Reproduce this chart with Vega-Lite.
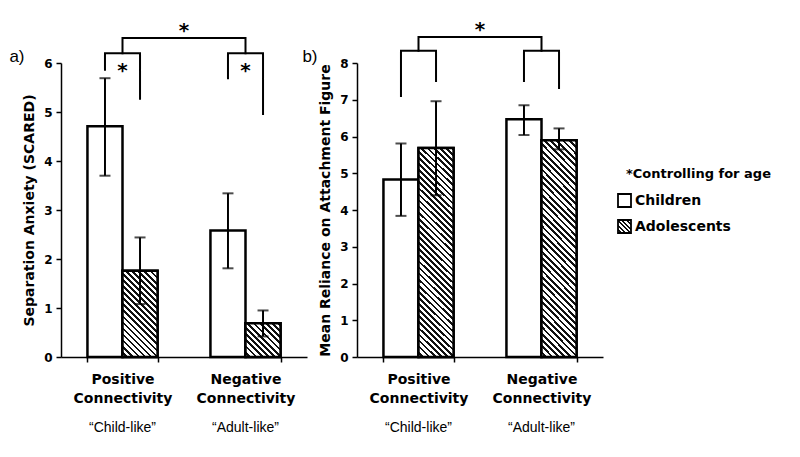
{
  "$schema": "https://vega.github.io/schema/vega-lite/v6.json",
  "background": "#ffffff",
  "padding": {"left": 8, "top": 19, "right": 0, "bottom": 0},
  "bounds": "flush",
  "spacing": 50,
  "config": {"view": {"stroke": null}, "font": "DejaVu Sans"},
  "datasets": {
    "anxiety": [
      {"cat": "Positive Connectivity|“Child-like”", "group": "Children", "mean": 4.71, "lo": 3.70, "hi": 5.69},
      {"cat": "Positive Connectivity|“Child-like”", "group": "Adolescents", "mean": 1.76, "lo": 1.08, "hi": 2.44},
      {"cat": "Negative Connectivity|“Adult-like”", "group": "Children", "mean": 2.58, "lo": 1.81, "hi": 3.34},
      {"cat": "Negative Connectivity|“Adult-like”", "group": "Adolescents", "mean": 0.69, "lo": 0.42, "hi": 0.95}
    ],
    "reliance": [
      {"cat": "Positive Connectivity|“Child-like”", "group": "Children", "mean": 4.83, "lo": 3.84, "hi": 5.81},
      {"cat": "Positive Connectivity|“Child-like”", "group": "Adolescents", "mean": 5.69, "lo": 4.40, "hi": 6.96},
      {"cat": "Negative Connectivity|“Adult-like”", "group": "Children", "mean": 6.47, "lo": 6.04, "hi": 6.85},
      {"cat": "Negative Connectivity|“Adult-like”", "group": "Adolescents", "mean": 5.90, "lo": 5.65, "hi": 6.22}
    ],
    "anxietyBrackets": [
      {"bracket": "Positive", "cat": "Positive Connectivity|“Child-like”", "group": "Children", "y": 5.86, "ord": 1},
      {"bracket": "Positive", "cat": "Positive Connectivity|“Child-like”", "group": "Children", "y": 6.2, "ord": 2},
      {"bracket": "Positive", "cat": "Positive Connectivity|“Child-like”", "group": "Adolescents", "y": 6.2, "ord": 3},
      {"bracket": "Positive", "cat": "Positive Connectivity|“Child-like”", "group": "Adolescents", "y": 5.27, "ord": 4},
      {"bracket": "Negative", "cat": "Negative Connectivity|“Adult-like”", "group": "Children", "y": 5.69, "ord": 1},
      {"bracket": "Negative", "cat": "Negative Connectivity|“Adult-like”", "group": "Children", "y": 6.2, "ord": 2},
      {"bracket": "Negative", "cat": "Negative Connectivity|“Adult-like”", "group": "Adolescents", "y": 6.2, "ord": 3},
      {"bracket": "Negative", "cat": "Negative Connectivity|“Adult-like”", "group": "Adolescents", "y": 4.96, "ord": 4}
    ],
    "anxietyTop": [
      {"cat": "Positive Connectivity|“Child-like”", "y": 6.2, "ord": 1},
      {"cat": "Positive Connectivity|“Child-like”", "y": 6.51, "ord": 2},
      {"cat": "Negative Connectivity|“Adult-like”", "y": 6.51, "ord": 3},
      {"cat": "Negative Connectivity|“Adult-like”", "y": 6.2, "ord": 4}
    ],
    "anxietyStars": [
      {"cat": "Positive Connectivity|“Child-like”", "y": 5.71, "label": "*"},
      {"cat": "Negative Connectivity|“Adult-like”", "y": 5.71, "label": "*"}
    ],
    "relianceBrackets": [
      {"bracket": "Positive", "cat": "Positive Connectivity|“Child-like”", "group": "Children", "y": 7.1, "ord": 1},
      {"bracket": "Positive", "cat": "Positive Connectivity|“Child-like”", "group": "Children", "y": 8.33, "ord": 2},
      {"bracket": "Positive", "cat": "Positive Connectivity|“Child-like”", "group": "Adolescents", "y": 8.33, "ord": 3},
      {"bracket": "Positive", "cat": "Positive Connectivity|“Child-like”", "group": "Adolescents", "y": 7.51, "ord": 4},
      {"bracket": "Negative", "cat": "Negative Connectivity|“Adult-like”", "group": "Children", "y": 7.51, "ord": 1},
      {"bracket": "Negative", "cat": "Negative Connectivity|“Adult-like”", "group": "Children", "y": 8.33, "ord": 2},
      {"bracket": "Negative", "cat": "Negative Connectivity|“Adult-like”", "group": "Adolescents", "y": 8.33, "ord": 3},
      {"bracket": "Negative", "cat": "Negative Connectivity|“Adult-like”", "group": "Adolescents", "y": 7.32, "ord": 4}
    ],
    "relianceTop": [
      {"cat": "Positive Connectivity|“Child-like”", "y": 8.33, "ord": 1},
      {"cat": "Positive Connectivity|“Child-like”", "y": 8.71, "ord": 2},
      {"cat": "Negative Connectivity|“Adult-like”", "y": 8.71, "ord": 3},
      {"cat": "Negative Connectivity|“Adult-like”", "y": 8.33, "ord": 4}
    ]
  },
  "hconcat": [
    {
      "width": 246,
      "height": 294,
      "title": {"text": "*", "anchor": "middle", "frame": "group", "orient": "top", "offset": -5, "dy": 22, "baseline": "bottom", "font": "DejaVu Sans", "fontSize": 20, "fontWeight": "bold", "color": "#000"},
      "resolve": {"axis": {"x": "independent", "y": "independent"}},
      "layer": [
        {
          "data": {"name": "anxiety"},
          "mark": {"type": "bar", "fill": "#ffffff", "strokeWidth": 2.5},
          "encoding": {
            "x": {"field": "cat", "type": "nominal", "sort": null, "scale": {"paddingInner": 0.43, "paddingOuter": 0.215},
              "axis": {"orient": "bottom", "title": null, "domainColor": "#000", "domainWidth": 1.5, "tickColor": "#000", "tickSize": 5, "tickWidth": 1.5, "tickBand": "extent", "labelExpr": "split(split(datum.label, '|')[0], ' ')", "labelFont": "DejaVu Sans", "labelFontWeight": "bold", "labelFontSize": 14, "labelColor": "#000", "labelPadding": 10, "labelLineHeight": 19, "labelAngle": 0, "grid": false}},
            "xOffset": {"field": "group", "type": "nominal", "sort": null, "scale": {"paddingInner": 0, "paddingOuter": 0}},
            "y": {"field": "mean", "type": "quantitative", "scale": {"domain": [0, 6], "nice": false},
              "axis": {"orient": "left", "values": [0, 1, 2, 3, 4, 5, 6], "domainColor": "#000", "domainWidth": 1.5, "tickColor": "#000", "tickSize": 5, "tickWidth": 1.5, "labelFont": "DejaVu Sans", "labelFontWeight": "bold", "labelFontSize": 12, "labelColor": "#000", "labelPadding": 4, "title": "Separation Anxiety (SCARED)", "titleFont": "DejaVu Sans", "titleFontWeight": "bold", "titleFontSize": 14, "titleColor": "#000", "titlePadding": 7, "grid": false}},
            "stroke": {"field": "group", "type": "nominal", "sort": null, "scale": {"domain": ["Children", "Adolescents"], "range": ["#000000", "#000000"]},
              "legend": {"title": "*Controlling for age", "orient": "none", "legendX": 556, "legendY": 105, "symbolType": "square", "symbolSize": 169, "symbolStrokeWidth": 1.8, "labelFont": "DejaVu Sans", "labelFontWeight": "bold", "labelFontSize": 14, "labelColor": "#000", "labelOffset": 3, "titleFont": "DejaVu Sans", "titleFontWeight": "bold", "titleFontSize": 13, "titleColor": "#000", "titlePadding": 12, "rowPadding": 5,
                "encoding": {
                  "title": {"dx": {"value": 9}},
                  "symbols": {
                    "fill": {
                      "condition": {"test": "datum.label === 'Adolescents'", "value": {"gradient": "linear", "x1": 0, "y1": 1, "x2": 1, "y2": 0, "stops": [
                        {"offset": 0, "color": "#fff"}, {"offset": 0.09, "color": "#fff"}, {"offset": 0.09, "color": "#111"}, {"offset": 0.17, "color": "#111"},
                        {"offset": 0.17, "color": "#fff"}, {"offset": 0.26, "color": "#fff"}, {"offset": 0.26, "color": "#111"}, {"offset": 0.34, "color": "#111"},
                        {"offset": 0.34, "color": "#fff"}, {"offset": 0.43, "color": "#fff"}, {"offset": 0.43, "color": "#111"}, {"offset": 0.51, "color": "#111"},
                        {"offset": 0.51, "color": "#fff"}, {"offset": 0.6, "color": "#fff"}, {"offset": 0.6, "color": "#111"}, {"offset": 0.68, "color": "#111"},
                        {"offset": 0.68, "color": "#fff"}, {"offset": 0.77, "color": "#fff"}, {"offset": 0.77, "color": "#111"}, {"offset": 0.85, "color": "#111"},
                        {"offset": 0.85, "color": "#fff"}, {"offset": 0.94, "color": "#fff"}, {"offset": 0.94, "color": "#111"}, {"offset": 1, "color": "#111"}
                      ]}},
                      "value": "#fff"
                    }
                  }
                }}}
          }
        },
        {
          "data": {"name": "anxiety"},
          "transform": [{"filter": "datum.group === 'Adolescents'"}],
          "mark": {"type": "bar", "stroke": "#000", "strokeWidth": 2.5},
          "encoding": {
            "x": {"field": "cat", "type": "nominal", "sort": null,
              "axis": {"orient": "bottom", "title": null, "domain": false, "ticks": false, "tickSize": 0, "labelPadding": 63, "labelExpr": "split(datum.label, '|')[1]", "labelFont": "Liberation Sans", "labelFontSize": 14, "labelFontWeight": "normal", "labelColor": "#000", "labelAngle": 0, "grid": false}},
            "xOffset": {"field": "group", "type": "nominal", "sort": null},
            "y": {"field": "mean", "type": "quantitative",
              "axis": {"orient": "left", "labels": false, "ticks": false, "domain": false, "grid": false, "title": "a)", "titleAngle": 0, "titleAlign": "right", "titleBaseline": "alphabetic", "titleX": -37, "titleY": -2, "titleFont": "Liberation Sans", "titleFontSize": 17, "titleFontWeight": "normal", "titleColor": "#000"}},
            "fill": {
              "condition": {"test": "indexof(datum.cat, 'Positive') === 0", "value": {"gradient": "linear", "x1": 0, "y1": 1, "x2": 0.4908, "y2": -0.2069, "stops": [
                {"offset": 0, "color": "#fff"}, {"offset": 0.028, "color": "#fff"}, {"offset": 0.028, "color": "#111"}, {"offset": 0.05, "color": "#111"},
                {"offset": 0.05, "color": "#fff"}, {"offset": 0.078, "color": "#fff"}, {"offset": 0.078, "color": "#111"}, {"offset": 0.1, "color": "#111"},
                {"offset": 0.1, "color": "#fff"}, {"offset": 0.128, "color": "#fff"}, {"offset": 0.128, "color": "#111"}, {"offset": 0.15, "color": "#111"},
                {"offset": 0.15, "color": "#fff"}, {"offset": 0.178, "color": "#fff"}, {"offset": 0.178, "color": "#111"}, {"offset": 0.2, "color": "#111"},
                {"offset": 0.2, "color": "#fff"}, {"offset": 0.228, "color": "#fff"}, {"offset": 0.228, "color": "#111"}, {"offset": 0.25, "color": "#111"},
                {"offset": 0.25, "color": "#fff"}, {"offset": 0.278, "color": "#fff"}, {"offset": 0.278, "color": "#111"}, {"offset": 0.3, "color": "#111"},
                {"offset": 0.3, "color": "#fff"}, {"offset": 0.328, "color": "#fff"}, {"offset": 0.328, "color": "#111"}, {"offset": 0.35, "color": "#111"},
                {"offset": 0.35, "color": "#fff"}, {"offset": 0.378, "color": "#fff"}, {"offset": 0.378, "color": "#111"}, {"offset": 0.4, "color": "#111"},
                {"offset": 0.4, "color": "#fff"}, {"offset": 0.428, "color": "#fff"}, {"offset": 0.428, "color": "#111"}, {"offset": 0.45, "color": "#111"},
                {"offset": 0.45, "color": "#fff"}, {"offset": 0.478, "color": "#fff"}, {"offset": 0.478, "color": "#111"}, {"offset": 0.5, "color": "#111"},
                {"offset": 0.5, "color": "#fff"}, {"offset": 0.528, "color": "#fff"}, {"offset": 0.528, "color": "#111"}, {"offset": 0.55, "color": "#111"},
                {"offset": 0.55, "color": "#fff"}, {"offset": 0.578, "color": "#fff"}, {"offset": 0.578, "color": "#111"}, {"offset": 0.6, "color": "#111"},
                {"offset": 0.6, "color": "#fff"}, {"offset": 0.628, "color": "#fff"}, {"offset": 0.628, "color": "#111"}, {"offset": 0.65, "color": "#111"},
                {"offset": 0.65, "color": "#fff"}, {"offset": 0.678, "color": "#fff"}, {"offset": 0.678, "color": "#111"}, {"offset": 0.7, "color": "#111"},
                {"offset": 0.7, "color": "#fff"}, {"offset": 0.728, "color": "#fff"}, {"offset": 0.728, "color": "#111"}, {"offset": 0.75, "color": "#111"},
                {"offset": 0.75, "color": "#fff"}, {"offset": 0.778, "color": "#fff"}, {"offset": 0.778, "color": "#111"}, {"offset": 0.8, "color": "#111"},
                {"offset": 0.8, "color": "#fff"}, {"offset": 0.828, "color": "#fff"}, {"offset": 0.828, "color": "#111"}, {"offset": 0.85, "color": "#111"},
                {"offset": 0.85, "color": "#fff"}, {"offset": 0.878, "color": "#fff"}, {"offset": 0.878, "color": "#111"}, {"offset": 0.9, "color": "#111"},
                {"offset": 0.9, "color": "#fff"}, {"offset": 0.928, "color": "#fff"}, {"offset": 0.928, "color": "#111"}, {"offset": 0.95, "color": "#111"},
                {"offset": 0.95, "color": "#fff"}, {"offset": 0.978, "color": "#fff"}, {"offset": 0.978, "color": "#111"}, {"offset": 1, "color": "#111"}
              ]}},
              "value": {"gradient": "linear", "x1": 0, "y1": 1, "x2": 1.0178, "y2": 0.0185, "stops": [
                {"offset": 0, "color": "#fff"}, {"offset": 0.05, "color": "#fff"}, {"offset": 0.05, "color": "#111"}, {"offset": 0.09, "color": "#111"},
                {"offset": 0.09, "color": "#fff"}, {"offset": 0.14, "color": "#fff"}, {"offset": 0.14, "color": "#111"}, {"offset": 0.18, "color": "#111"},
                {"offset": 0.18, "color": "#fff"}, {"offset": 0.23, "color": "#fff"}, {"offset": 0.23, "color": "#111"}, {"offset": 0.27, "color": "#111"},
                {"offset": 0.27, "color": "#fff"}, {"offset": 0.32, "color": "#fff"}, {"offset": 0.32, "color": "#111"}, {"offset": 0.36, "color": "#111"},
                {"offset": 0.36, "color": "#fff"}, {"offset": 0.41, "color": "#fff"}, {"offset": 0.41, "color": "#111"}, {"offset": 0.45, "color": "#111"},
                {"offset": 0.45, "color": "#fff"}, {"offset": 0.5, "color": "#fff"}, {"offset": 0.5, "color": "#111"}, {"offset": 0.54, "color": "#111"},
                {"offset": 0.54, "color": "#fff"}, {"offset": 0.59, "color": "#fff"}, {"offset": 0.59, "color": "#111"}, {"offset": 0.63, "color": "#111"},
                {"offset": 0.63, "color": "#fff"}, {"offset": 0.68, "color": "#fff"}, {"offset": 0.68, "color": "#111"}, {"offset": 0.72, "color": "#111"},
                {"offset": 0.72, "color": "#fff"}, {"offset": 0.77, "color": "#fff"}, {"offset": 0.77, "color": "#111"}, {"offset": 0.81, "color": "#111"},
                {"offset": 0.81, "color": "#fff"}, {"offset": 0.86, "color": "#fff"}, {"offset": 0.86, "color": "#111"}, {"offset": 0.9, "color": "#111"},
                {"offset": 0.9, "color": "#fff"}, {"offset": 0.95, "color": "#fff"}, {"offset": 0.95, "color": "#111"}, {"offset": 0.99, "color": "#111"},
                {"offset": 0.99, "color": "#fff"}, {"offset": 1, "color": "#fff"}
              ]}
            }
          }
        },
        {
          "data": {"name": "anxiety"},
          "mark": {"type": "rule", "color": "#000", "strokeWidth": 2},
          "encoding": {
            "x": {"field": "cat", "type": "nominal", "sort": null, "axis": null},
            "xOffset": {"field": "group", "type": "nominal", "sort": null},
            "y": {"field": "lo", "type": "quantitative", "axis": null},
            "y2": {"field": "hi"}
          }
        },
        {
          "data": {"name": "anxiety"},
          "mark": {"type": "tick", "color": "#000", "thickness": 2, "size": 11},
          "encoding": {
            "x": {"field": "cat", "type": "nominal", "sort": null, "axis": null},
            "xOffset": {"field": "group", "type": "nominal", "sort": null},
            "y": {"field": "lo", "type": "quantitative", "axis": null}
          }
        },
        {
          "data": {"name": "anxiety"},
          "mark": {"type": "tick", "color": "#000", "thickness": 2, "size": 11},
          "encoding": {
            "x": {"field": "cat", "type": "nominal", "sort": null, "axis": null},
            "xOffset": {"field": "group", "type": "nominal", "sort": null},
            "y": {"field": "hi", "type": "quantitative", "axis": null}
          }
        },
        {
          "data": {"name": "anxietyBrackets"},
          "mark": {"type": "line", "color": "#000", "strokeWidth": 2, "strokeJoin": "miter", "strokeCap": "square"},
          "encoding": {
            "x": {"field": "cat", "type": "nominal", "sort": null, "axis": null},
            "xOffset": {"field": "group", "type": "nominal", "sort": null},
            "y": {"field": "y", "type": "quantitative", "axis": null},
            "detail": {"field": "bracket"},
            "order": {"field": "ord", "type": "quantitative"}
          }
        },
        {
          "data": {"name": "anxietyTop"},
          "mark": {"type": "line", "color": "#000", "strokeWidth": 2, "strokeJoin": "miter", "strokeCap": "square"},
          "encoding": {
            "x": {"field": "cat", "type": "nominal", "sort": null, "axis": null},
            "y": {"field": "y", "type": "quantitative", "axis": null},
            "order": {"field": "ord", "type": "quantitative"}
          }
        },
        {
          "data": {"name": "anxietyStars"},
          "mark": {"type": "text", "font": "DejaVu Sans", "fontSize": 20, "fontWeight": "bold", "baseline": "alphabetic", "color": "#000"},
          "encoding": {
            "x": {"field": "cat", "type": "nominal", "sort": null, "axis": null},
            "y": {"field": "y", "type": "quantitative", "axis": null},
            "text": {"field": "label"}
          }
        }
      ]
    },
    {
      "width": 246,
      "height": 294,
      "title": {"text": "*", "anchor": "middle", "frame": "group", "orient": "top", "offset": -5, "dy": 22, "baseline": "bottom", "font": "DejaVu Sans", "fontSize": 20, "fontWeight": "bold", "color": "#000"},
      "resolve": {"axis": {"x": "independent", "y": "independent"}},
      "layer": [
        {
          "data": {"name": "reliance"},
          "mark": {"type": "bar", "fill": "#ffffff", "strokeWidth": 2.5},
          "encoding": {
            "x": {"field": "cat", "type": "nominal", "sort": null, "scale": {"paddingInner": 0.43, "paddingOuter": 0.215},
              "axis": {"orient": "bottom", "title": null, "domainColor": "#000", "domainWidth": 1.5, "tickColor": "#000", "tickSize": 5, "tickWidth": 1.5, "tickBand": "extent", "labelExpr": "split(split(datum.label, '|')[0], ' ')", "labelFont": "DejaVu Sans", "labelFontWeight": "bold", "labelFontSize": 14, "labelColor": "#000", "labelPadding": 10, "labelLineHeight": 19, "labelAngle": 0, "grid": false}},
            "xOffset": {"field": "group", "type": "nominal", "sort": null, "scale": {"paddingInner": 0, "paddingOuter": 0}},
            "y": {"field": "mean", "type": "quantitative", "scale": {"domain": [0, 8], "nice": false},
              "axis": {"orient": "left", "values": [0, 1, 2, 3, 4, 5, 6, 7, 8], "domainColor": "#000", "domainWidth": 1.5, "tickColor": "#000", "tickSize": 5, "tickWidth": 1.5, "labelFont": "DejaVu Sans", "labelFontWeight": "bold", "labelFontSize": 12, "labelColor": "#000", "labelPadding": 4, "title": "Mean Reliance on Attachment Figure", "titleFont": "DejaVu Sans", "titleFontWeight": "bold", "titleFontSize": 14, "titleColor": "#000", "titlePadding": 7, "grid": false}},
            "stroke": {"field": "group", "type": "nominal", "sort": null, "scale": {"domain": ["Children", "Adolescents"], "range": ["#000000", "#000000"]}, "legend": null}
          }
        },
        {
          "data": {"name": "reliance"},
          "transform": [{"filter": "datum.group === 'Adolescents'"}],
          "mark": {"type": "bar", "stroke": "#000", "strokeWidth": 2.5, "fill": {"gradient": "linear", "x1": 0, "y1": 1, "x2": 0.1865, "y2": -0.1337, "stops": [
            {"offset": 0, "color": "#fff"}, {"offset": 0.014, "color": "#fff"}, {"offset": 0.014, "color": "#111"}, {"offset": 0.025, "color": "#111"},
            {"offset": 0.025, "color": "#fff"}, {"offset": 0.039, "color": "#fff"}, {"offset": 0.039, "color": "#111"}, {"offset": 0.05, "color": "#111"},
            {"offset": 0.05, "color": "#fff"}, {"offset": 0.064, "color": "#fff"}, {"offset": 0.064, "color": "#111"}, {"offset": 0.075, "color": "#111"},
            {"offset": 0.075, "color": "#fff"}, {"offset": 0.089, "color": "#fff"}, {"offset": 0.089, "color": "#111"}, {"offset": 0.1, "color": "#111"},
            {"offset": 0.1, "color": "#fff"}, {"offset": 0.114, "color": "#fff"}, {"offset": 0.114, "color": "#111"}, {"offset": 0.125, "color": "#111"},
            {"offset": 0.125, "color": "#fff"}, {"offset": 0.139, "color": "#fff"}, {"offset": 0.139, "color": "#111"}, {"offset": 0.15, "color": "#111"},
            {"offset": 0.15, "color": "#fff"}, {"offset": 0.164, "color": "#fff"}, {"offset": 0.164, "color": "#111"}, {"offset": 0.175, "color": "#111"},
            {"offset": 0.175, "color": "#fff"}, {"offset": 0.189, "color": "#fff"}, {"offset": 0.189, "color": "#111"}, {"offset": 0.2, "color": "#111"},
            {"offset": 0.2, "color": "#fff"}, {"offset": 0.214, "color": "#fff"}, {"offset": 0.214, "color": "#111"}, {"offset": 0.225, "color": "#111"},
            {"offset": 0.225, "color": "#fff"}, {"offset": 0.239, "color": "#fff"}, {"offset": 0.239, "color": "#111"}, {"offset": 0.25, "color": "#111"},
            {"offset": 0.25, "color": "#fff"}, {"offset": 0.264, "color": "#fff"}, {"offset": 0.264, "color": "#111"}, {"offset": 0.275, "color": "#111"},
            {"offset": 0.275, "color": "#fff"}, {"offset": 0.289, "color": "#fff"}, {"offset": 0.289, "color": "#111"}, {"offset": 0.3, "color": "#111"},
            {"offset": 0.3, "color": "#fff"}, {"offset": 0.314, "color": "#fff"}, {"offset": 0.314, "color": "#111"}, {"offset": 0.325, "color": "#111"},
            {"offset": 0.325, "color": "#fff"}, {"offset": 0.339, "color": "#fff"}, {"offset": 0.339, "color": "#111"}, {"offset": 0.35, "color": "#111"},
            {"offset": 0.35, "color": "#fff"}, {"offset": 0.364, "color": "#fff"}, {"offset": 0.364, "color": "#111"}, {"offset": 0.375, "color": "#111"},
            {"offset": 0.375, "color": "#fff"}, {"offset": 0.389, "color": "#fff"}, {"offset": 0.389, "color": "#111"}, {"offset": 0.4, "color": "#111"},
            {"offset": 0.4, "color": "#fff"}, {"offset": 0.414, "color": "#fff"}, {"offset": 0.414, "color": "#111"}, {"offset": 0.425, "color": "#111"},
            {"offset": 0.425, "color": "#fff"}, {"offset": 0.439, "color": "#fff"}, {"offset": 0.439, "color": "#111"}, {"offset": 0.45, "color": "#111"},
            {"offset": 0.45, "color": "#fff"}, {"offset": 0.464, "color": "#fff"}, {"offset": 0.464, "color": "#111"}, {"offset": 0.475, "color": "#111"},
            {"offset": 0.475, "color": "#fff"}, {"offset": 0.489, "color": "#fff"}, {"offset": 0.489, "color": "#111"}, {"offset": 0.5, "color": "#111"},
            {"offset": 0.5, "color": "#fff"}, {"offset": 0.514, "color": "#fff"}, {"offset": 0.514, "color": "#111"}, {"offset": 0.525, "color": "#111"},
            {"offset": 0.525, "color": "#fff"}, {"offset": 0.539, "color": "#fff"}, {"offset": 0.539, "color": "#111"}, {"offset": 0.55, "color": "#111"},
            {"offset": 0.55, "color": "#fff"}, {"offset": 0.564, "color": "#fff"}, {"offset": 0.564, "color": "#111"}, {"offset": 0.575, "color": "#111"},
            {"offset": 0.575, "color": "#fff"}, {"offset": 0.589, "color": "#fff"}, {"offset": 0.589, "color": "#111"}, {"offset": 0.6, "color": "#111"},
            {"offset": 0.6, "color": "#fff"}, {"offset": 0.614, "color": "#fff"}, {"offset": 0.614, "color": "#111"}, {"offset": 0.625, "color": "#111"},
            {"offset": 0.625, "color": "#fff"}, {"offset": 0.639, "color": "#fff"}, {"offset": 0.639, "color": "#111"}, {"offset": 0.65, "color": "#111"},
            {"offset": 0.65, "color": "#fff"}, {"offset": 0.664, "color": "#fff"}, {"offset": 0.664, "color": "#111"}, {"offset": 0.675, "color": "#111"},
            {"offset": 0.675, "color": "#fff"}, {"offset": 0.689, "color": "#fff"}, {"offset": 0.689, "color": "#111"}, {"offset": 0.7, "color": "#111"},
            {"offset": 0.7, "color": "#fff"}, {"offset": 0.714, "color": "#fff"}, {"offset": 0.714, "color": "#111"}, {"offset": 0.725, "color": "#111"},
            {"offset": 0.725, "color": "#fff"}, {"offset": 0.739, "color": "#fff"}, {"offset": 0.739, "color": "#111"}, {"offset": 0.75, "color": "#111"},
            {"offset": 0.75, "color": "#fff"}, {"offset": 0.764, "color": "#fff"}, {"offset": 0.764, "color": "#111"}, {"offset": 0.775, "color": "#111"},
            {"offset": 0.775, "color": "#fff"}, {"offset": 0.789, "color": "#fff"}, {"offset": 0.789, "color": "#111"}, {"offset": 0.8, "color": "#111"},
            {"offset": 0.8, "color": "#fff"}, {"offset": 0.814, "color": "#fff"}, {"offset": 0.814, "color": "#111"}, {"offset": 0.825, "color": "#111"},
            {"offset": 0.825, "color": "#fff"}, {"offset": 0.839, "color": "#fff"}, {"offset": 0.839, "color": "#111"}, {"offset": 0.85, "color": "#111"},
            {"offset": 0.85, "color": "#fff"}, {"offset": 0.864, "color": "#fff"}, {"offset": 0.864, "color": "#111"}, {"offset": 0.875, "color": "#111"},
            {"offset": 0.875, "color": "#fff"}, {"offset": 0.889, "color": "#fff"}, {"offset": 0.889, "color": "#111"}, {"offset": 0.9, "color": "#111"},
            {"offset": 0.9, "color": "#fff"}, {"offset": 0.914, "color": "#fff"}, {"offset": 0.914, "color": "#111"}, {"offset": 0.925, "color": "#111"},
            {"offset": 0.925, "color": "#fff"}, {"offset": 0.939, "color": "#fff"}, {"offset": 0.939, "color": "#111"}, {"offset": 0.95, "color": "#111"},
            {"offset": 0.95, "color": "#fff"}, {"offset": 0.964, "color": "#fff"}, {"offset": 0.964, "color": "#111"}, {"offset": 0.975, "color": "#111"},
            {"offset": 0.975, "color": "#fff"}, {"offset": 0.989, "color": "#fff"}, {"offset": 0.989, "color": "#111"}, {"offset": 1, "color": "#111"}
          ]}},
          "encoding": {
            "x": {"field": "cat", "type": "nominal", "sort": null,
              "axis": {"orient": "bottom", "title": null, "domain": false, "ticks": false, "tickSize": 0, "labelPadding": 63, "labelExpr": "split(datum.label, '|')[1]", "labelFont": "Liberation Sans", "labelFontSize": 14, "labelFontWeight": "normal", "labelColor": "#000", "labelAngle": 0, "grid": false}},
            "xOffset": {"field": "group", "type": "nominal", "sort": null},
            "y": {"field": "mean", "type": "quantitative",
              "axis": {"orient": "left", "labels": false, "ticks": false, "domain": false, "grid": false, "title": "b)", "titleAngle": 0, "titleAlign": "right", "titleBaseline": "alphabetic", "titleX": -40, "titleY": -2, "titleFont": "Liberation Sans", "titleFontSize": 17, "titleFontWeight": "normal", "titleColor": "#000"}}
          }
        },
        {
          "data": {"name": "reliance"},
          "mark": {"type": "rule", "color": "#000", "strokeWidth": 2},
          "encoding": {
            "x": {"field": "cat", "type": "nominal", "sort": null, "axis": null},
            "xOffset": {"field": "group", "type": "nominal", "sort": null},
            "y": {"field": "lo", "type": "quantitative", "axis": null},
            "y2": {"field": "hi"}
          }
        },
        {
          "data": {"name": "reliance"},
          "mark": {"type": "tick", "color": "#000", "thickness": 2, "size": 11},
          "encoding": {
            "x": {"field": "cat", "type": "nominal", "sort": null, "axis": null},
            "xOffset": {"field": "group", "type": "nominal", "sort": null},
            "y": {"field": "lo", "type": "quantitative", "axis": null}
          }
        },
        {
          "data": {"name": "reliance"},
          "mark": {"type": "tick", "color": "#000", "thickness": 2, "size": 11},
          "encoding": {
            "x": {"field": "cat", "type": "nominal", "sort": null, "axis": null},
            "xOffset": {"field": "group", "type": "nominal", "sort": null},
            "y": {"field": "hi", "type": "quantitative", "axis": null}
          }
        },
        {
          "data": {"name": "relianceBrackets"},
          "mark": {"type": "line", "color": "#000", "strokeWidth": 2, "strokeJoin": "miter", "strokeCap": "square"},
          "encoding": {
            "x": {"field": "cat", "type": "nominal", "sort": null, "axis": null},
            "xOffset": {"field": "group", "type": "nominal", "sort": null},
            "y": {"field": "y", "type": "quantitative", "axis": null},
            "detail": {"field": "bracket"},
            "order": {"field": "ord", "type": "quantitative"}
          }
        },
        {
          "data": {"name": "relianceTop"},
          "mark": {"type": "line", "color": "#000", "strokeWidth": 2, "strokeJoin": "miter", "strokeCap": "square"},
          "encoding": {
            "x": {"field": "cat", "type": "nominal", "sort": null, "axis": null},
            "y": {"field": "y", "type": "quantitative", "axis": null},
            "order": {"field": "ord", "type": "quantitative"}
          }
        }
      ]
    }
  ]
}
